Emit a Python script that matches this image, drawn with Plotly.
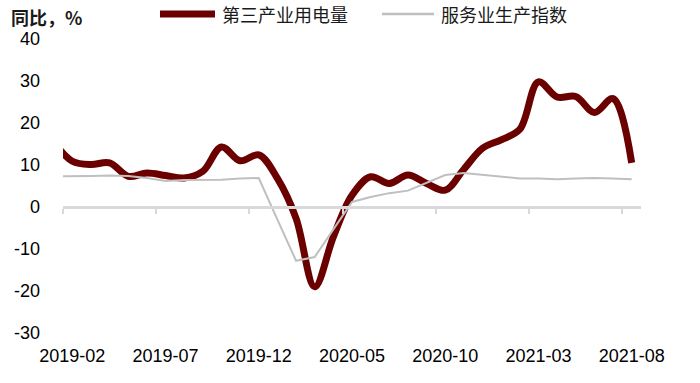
import plotly.graph_objects as go

# ---- data ----
months = ["2019-01", "2019-02", "2019-03", "2019-04", "2019-05", "2019-06", "2019-07", "2019-08",
          "2019-09", "2019-10", "2019-11", "2019-12", "2020-01", "2020-02", "2020-03", "2020-04",
          "2020-05", "2020-06", "2020-07", "2020-08", "2020-09", "2020-10", "2020-11", "2020-12",
          "2021-01", "2021-02", "2021-03", "2021-04", "2021-05", "2021-06", "2021-07", "2021-08"]

power = [15.5, 10.9, 10.1, 10.5, 7.3, 8.1, 7.5, 6.9, 8.5, 14.3, 11.0, 12.4, 6.8, -2.7, -19.0, -7.1,
         2.8, 7.2, 5.6, 7.6, 5.6, 4.0, 9.0, 14.0, 16.0, 18.5, 29.8, 26.2, 26.3, 22.5, 25.8, 10.5]

service = [7.3, 7.3, 7.4, 7.5, 7.4, 6.9, 6.2, 6.4, 6.5, 6.5, 6.8, 6.9, -3.0, -12.8, -11.9, -5.3,
           1.2, 2.4, 3.3, 3.9, 5.7, 7.6, 8.1, 7.7, 7.2, 6.8, 6.8, 6.6, 6.8, 6.9, 6.8, 6.6]

tick_labels = ["2019-02", "2019-07", "2019-12", "2020-05", "2020-10", "2021-03", "2021-08"]
y_ticks = [40, 30, 20, 10, 0, -10, -20, -30]
y_tick_text = [str(v) for v in y_ticks]

name_power = "第三产业用电量"
name_service = "服务业生产指数"
title_text = "同比，%"

# ---- layout constants (pixels) ----
W, H = 700, 383
ML, MR, MT, MB = 63, 59, 39, 50
PW, PH = W - ML - MR, H - MT - MB


def px_x(px):
    return (px - ML) / PW


def px_y(py):
    return (H - MB - py) / PH


RED = "#6B0000"
GRAY = "#BFBFBF"
AXIS = "#D9D9D9"

x = list(range(len(months)))
label_pos = [months.index(m) for m in tick_labels]
boundaries = [p - 0.5 for p in label_pos]
x_range = [0.5, len(months) - 0.5]
y_range = [min(y_ticks), max(y_ticks)]
zero_frac = (0 - y_range[0]) / (y_range[1] - y_range[0])

fig = go.Figure()
fig.add_trace(go.Scatter(
    x=x, y=power, name=name_power, mode="lines",
    line=dict(color=RED, width=7, shape="spline", smoothing=1.0),
))
fig.add_trace(go.Scatter(
    x=x, y=service, name=name_service, mode="lines",
    line=dict(color=GRAY, width=2),
))
fig.add_trace(go.Scatter(x=[None], y=[None], xaxis="x2", showlegend=False,
                         hoverinfo="skip", mode="lines"))

num_font = dict(family="Arial, 'Liberation Sans', sans-serif", size=18, color="#000000")
cjk_font = dict(family="'Noto Sans CJK SC', sans-serif", size=18, color="#1a1a1a")

# manual legend (longer line samples like the reference); positions in pixels
legend_items = [
    (name_power, RED, 7, 160, 215, 220),
    (name_service, GRAY, 2.5, 382, 434, 439),
]
shapes = []
annotations = []
legend_y = 14
for name, col, lw, x0, x1, tx in legend_items:
    shapes.append(dict(type="line", xref="paper", yref="paper",
                       x0=px_x(x0), x1=px_x(x1), y0=px_y(legend_y), y1=px_y(legend_y),
                       line=dict(color=col, width=lw)))
    annotations.append(dict(text=name, xref="paper", yref="paper",
                            x=px_x(tx), y=px_y(legend_y), xanchor="left", yanchor="middle",
                            showarrow=False, font=cjk_font))

annotations.append(dict(
    text="<b>" + title_text + "</b>", xref="paper", yref="paper",
    x=px_x(9), y=px_y(17), xanchor="left", yanchor="middle",
    showarrow=False, font=dict(family="'Noto Sans CJK SC', sans-serif", size=18, color="#1a1a1a"),
))

fig.update_layout(
    width=W, height=H,
    margin=dict(l=ML, r=MR, t=MT, b=MB, autoexpand=False),
    paper_bgcolor="white", plot_bgcolor="white",
    showlegend=False,
    hovermode=False,
    xaxis=dict(
        range=x_range, tickmode="array", tickvals=label_pos, ticktext=tick_labels,
        showgrid=False, zeroline=False, showline=False, ticks="",
        tickfont=num_font, ticklabelstandoff=10, automargin=False,
    ),
    xaxis2=dict(
        overlaying="x", anchor="free", position=zero_frac, side="bottom",
        range=x_range, tickmode="array", tickvals=boundaries,
        showticklabels=False, ticks="outside", ticklen=5, tickwidth=2,
        tickcolor=AXIS, showline=True, linecolor=AXIS, linewidth=2.5,
        showgrid=False, zeroline=False, automargin=False,
    ),
    yaxis=dict(
        range=y_range, tickmode="array", tickvals=y_ticks, ticktext=y_tick_text,
        showgrid=False, zeroline=False, showline=False, ticks="",
        tickfont=num_font, ticklabelstandoff=22, automargin=False,
    ),
    shapes=shapes,
    annotations=annotations,
)

fig.write_html(
    "out.html",
    config={"displayModeBar": False, "staticPlot": True},
    post_script="document.body.style.margin='0';document.body.style.padding='0';",
)
